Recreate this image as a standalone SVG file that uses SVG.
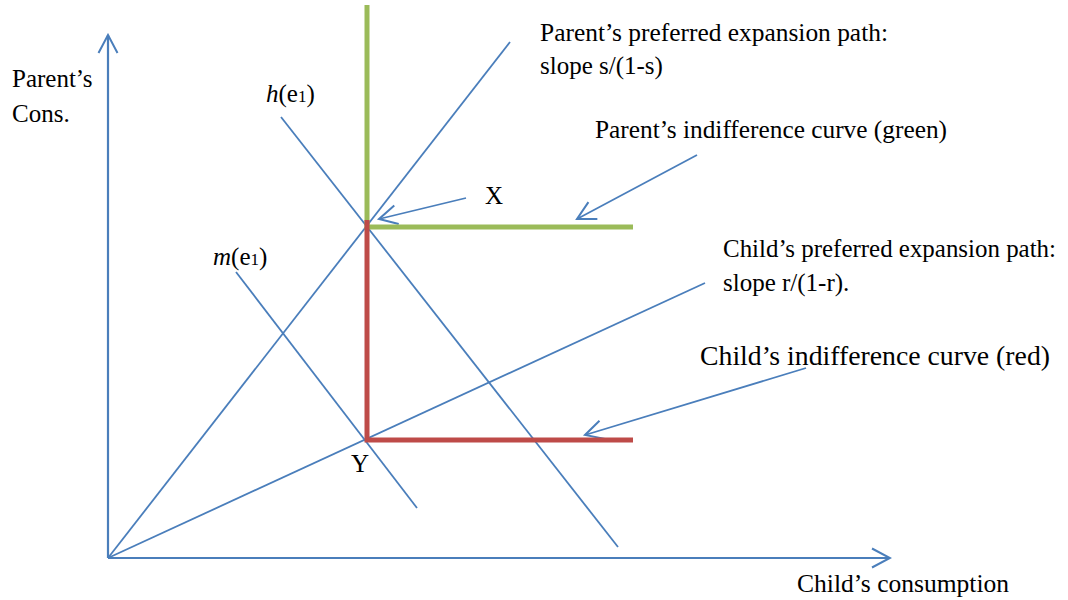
<svg xmlns="http://www.w3.org/2000/svg" width="1068" height="600" viewBox="0 0 1068 600">
<style>
.ln{stroke:#4a7ebb;stroke-width:1.8;fill:none}
.ax{stroke:#4a7ebb;stroke-width:2.2;fill:none}
.ptr{stroke:#4a7ebb;stroke-width:1.8;fill:none;marker-end:url(#open)}
.g{stroke:#9bbb59;stroke-width:5;fill:none}
.r{stroke:#be4b48;stroke-width:5;fill:none}
text{font-family:"Liberation Serif","Times New Roman",serif;font-size:25px;fill:#000}
.big{font-size:27px}
.it{font-style:italic}
</style>
<defs>
<marker id="open" viewBox="0 0 22 22" refX="20" refY="11" markerWidth="22" markerHeight="22" markerUnits="userSpaceOnUse" orient="auto">
<path d="M2,1.5 L20,11 L2,20.5" fill="none" stroke="#4a7ebb" stroke-width="2"/>
</marker>
</defs>
<rect width="1068" height="600" fill="#fff"/>
<g id="connectors">
<line class="ax" x1="108" y1="558" x2="108" y2="35" marker-end="url(#open)"/>
<line class="ax" x1="108" y1="558" x2="890" y2="558" marker-end="url(#open)"/>
<line id="parent-path" class="ln" x1="108" y1="558" x2="510" y2="42"/>
<line id="child-path" class="ln" x1="108" y1="558" x2="705" y2="283"/>
<line id="h-line" class="ln" x1="281" y1="117" x2="618" y2="547"/>
<line id="m-line" class="ln" x1="236" y1="272" x2="417" y2="508"/>
<line class="ptr" x1="466" y1="198" x2="379" y2="219"/>
<line class="ptr" x1="697" y1="155" x2="577" y2="219"/>
<line class="ptr" x1="806" y1="368" x2="585" y2="435"/>
</g>
<g id="parent-curve">
<polyline class="g" points="367,5 367,227 633,227"/>
</g>
<g id="child-curve">
<polyline class="r" points="367,220 367,440 633,440"/>
</g>
<g id="labels">
<text x="12" y="87">Parent’s</text>
<text x="12" y="122">Cons.</text>
<text x="266" y="102"><tspan class="it">h</tspan>(e<tspan font-size="17">1</tspan>)</text>
<text x="213" y="265"><tspan class="it">m</tspan>(e<tspan font-size="17">1</tspan>)</text>
<text x="540" y="41" textLength="348" lengthAdjust="spacingAndGlyphs">Parent’s preferred expansion path:</text>
<text x="540" y="74">slope s/(1-s)</text>
<text x="595" y="138" textLength="352" lengthAdjust="spacingAndGlyphs">Parent’s indifference curve (green)</text>
<text x="485" y="204">X</text>
<text x="723" y="257" textLength="333" lengthAdjust="spacingAndGlyphs">Child’s preferred expansion path:</text>
<text x="723" y="291">slope r/(1-r).</text>
<text class="big" x="700" y="365" textLength="350" lengthAdjust="spacingAndGlyphs">Child’s indifference curve (red)</text>
<text x="351" y="472">Y</text>
<text x="797" y="592" textLength="212" lengthAdjust="spacingAndGlyphs">Child’s consumption</text>
</g>
</svg>
